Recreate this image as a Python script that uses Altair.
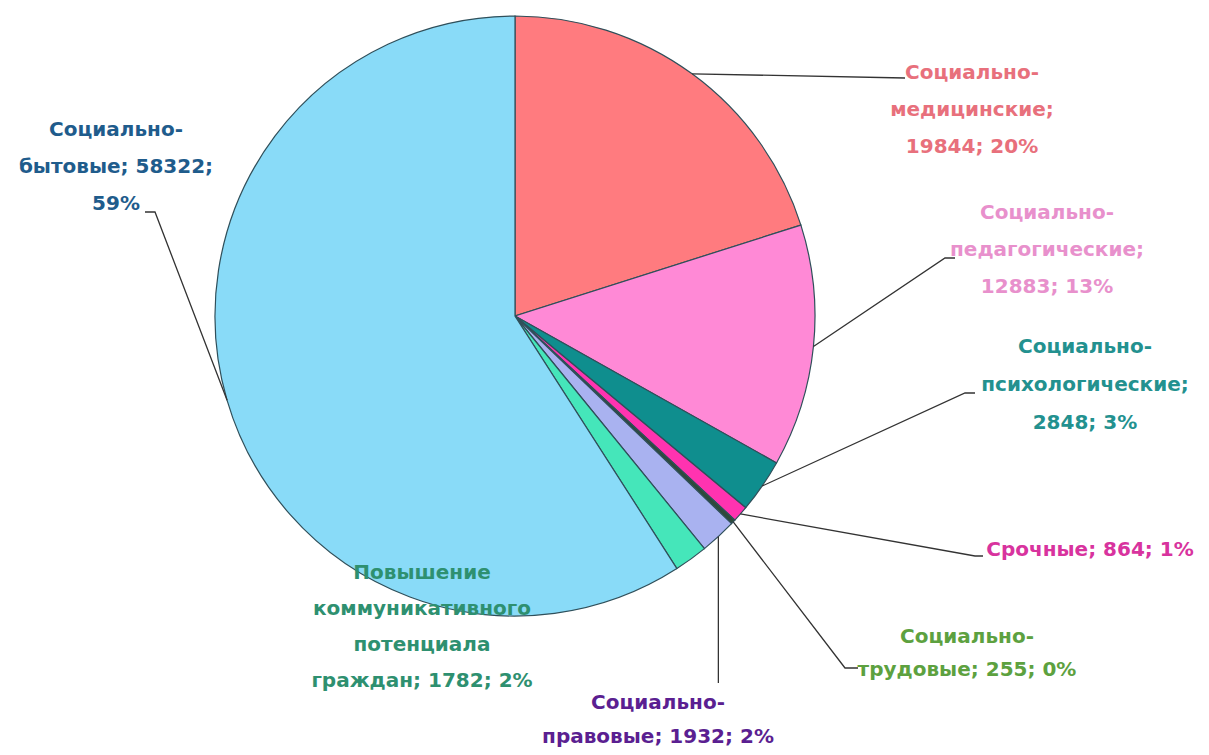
import math
import altair as alt
import pandas as pd

# ---- data ----
categories = [
    "Социально-медицинские",
    "Социально-педагогические",
    "Социально-психологические",
    "Срочные",
    "Социально-трудовые",
    "Социально-правовые",
    "Повышение коммуникативного потенциала граждан",
    "Социально-бытовые",
]
values = [19844, 12883, 2848, 864, 255, 1932, 1782, 58322]
slice_colors = ["#FF7B7F", "#FF89D6", "#0F8E8E", "#FF33B0", "#2E4A3A", "#A9B2F0", "#45E6BA", "#89DBF8"]
label_colors = ["#E8707C", "#E890CC", "#23918F", "#D8339E", "#5DA13F", "#5B1F91", "#2E9070", "#1F5C8C"]

# label line templates ("|" = line break)
label_templates = [
    "Социально-|медицинские;|{v}; {p}%",
    "Социально-|педагогические;|{v}; {p}%",
    "Социально-|психологические;|{v}; {p}%",
    "Срочные; {v}; {p}%",
    "Социально-|трудовые; {v}; {p}%",
    "Социально-|правовые; {v}; {p}%",
    "Повышение|коммуникативного|потенциала|граждан; {v}; {p}%",
    "Социально-|бытовые; {v};|{p}%",
]

# ---- layout (page pixel coordinates) ----
W, H = 1193, 745
OFF = 8
CX, CY, R = 515 - OFF, 316 - OFF, 300
LINE_H = 37
label_pos = [(972, 73), (1047, 213), (1085, 347), (1090, 550), (967, 637), (658, 703), (422, 573), (116, 130)]
label_spacing = [37, 37, 38, 37, 33, 34, 36, 37]
leader_tail = [
    [(905, 78)],
    [(945, 258), (955, 258)],
    [(965, 393), (975, 393)],
    [(975, 556), (983, 556)],
    [(845, 668), (858, 668)],
    "vertical:683",
    None,
    [(155, 212), (145, 212)],
]

total = sum(values)
pie_df = pd.DataFrame({"cat": categories, "value": values, "order": list(range(len(values)))})

# leader lines
rows = []
cum = 0
for i, v in enumerate(values):
    mid = (cum + v / 2) / total * 2 * math.pi
    cum += v
    sx = CX + R * math.sin(mid)
    sy = CY - R * math.cos(mid)
    tail = leader_tail[i]
    if tail is None:
        continue
    pts = [(sx, sy)]
    if isinstance(tail, str):
        pts.append((sx, float(tail.split(":")[1]) - OFF))
    else:
        pts += [(x - OFF, y - OFF) for x, y in tail]
    for k, (x, y) in enumerate(pts):
        rows.append({"lab": categories[i], "seq": k, "x": x, "y": y})
line_df = pd.DataFrame(rows)

# labels
trows = []
for i, v in enumerate(values):
    p = round(v / total * 100)
    lines = label_templates[i].format(v=v, p=p).split("|")
    lx, ly = label_pos[i]
    for k, t in enumerate(lines):
        trows.append({"x": lx - OFF, "y": ly - OFF + k * label_spacing[i], "text": t, "color": label_colors[i]})
text_df = pd.DataFrame(trows)

xs = alt.Scale(domain=[0, W], nice=False, zero=False)
ys = alt.Scale(domain=[0, H], nice=False, zero=False, reverse=True)

pie = alt.Chart(pie_df).mark_arc(outerRadius=R, stroke="#2F4F5A", strokeWidth=1.2).encode(
    theta=alt.Theta("value:Q", stack=True),
    order=alt.Order("order:Q"),
    color=alt.Color("cat:N", scale=alt.Scale(domain=categories, range=slice_colors), legend=None),
    x=alt.value(CX),
    y=alt.value(CY),
)

leaders = alt.Chart(line_df).mark_line(color="#333333", strokeWidth=1.3).encode(
    x=alt.X("x:Q", scale=xs, axis=None),
    y=alt.Y("y:Q", scale=ys, axis=None),
    detail="lab:N",
    order="seq:Q",
)

labels = alt.Chart(text_df).mark_text(
    font="DejaVu Sans", fontWeight="bold", fontSize=20, align="center", baseline="middle"
).encode(
    x=alt.X("x:Q", scale=xs, axis=None),
    y=alt.Y("y:Q", scale=ys, axis=None),
    text="text:N",
    color=alt.Color("color:N", scale=None),
)

chart = alt.layer(pie, leaders, labels).properties(
    width=W, height=H, padding=0,
    autosize=alt.AutoSizeParams(type="none"),
).configure_view(stroke=None)

chart.save("out.html", embed_options={"renderer": "svg", "actions": False})
